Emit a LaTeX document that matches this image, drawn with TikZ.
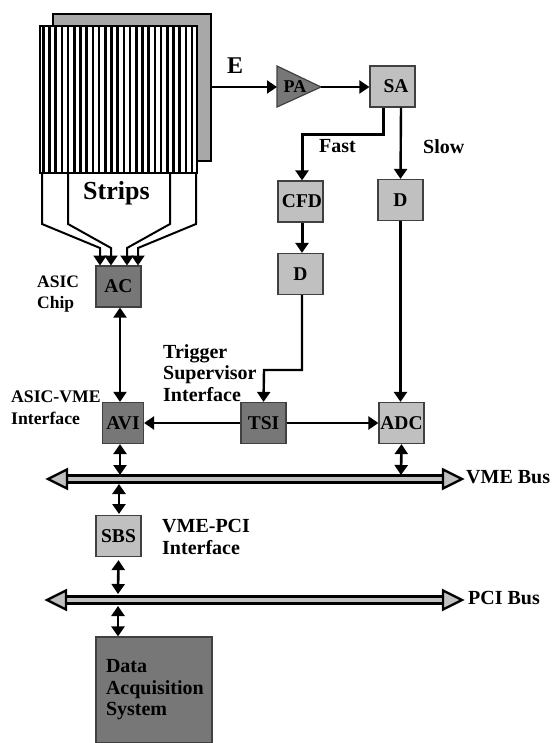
\documentclass[tikz,border=0pt]{standalone}
\usepackage{fontspec}
\setmainfont{Liberation Serif}
\usetikzlibrary{arrows.meta}

\definecolor{boxlight}{HTML}{C0C0C0}
\definecolor{boxdark}{HTML}{777777}
\definecolor{plate}{HTML}{A8A8A8}

\tikzset{
  lightbox/.style={draw=black!75,line width=1.2pt,fill=boxlight,inner sep=0pt,minimum width=45pt,minimum height=41pt,font=\bfseries\fontsize{19.5}{21}\selectfont},
  darkbox/.style={lightbox,fill=boxdark},
  lbl/.style={inner sep=0pt,anchor=base west,align=left,font=\bfseries\fontsize{20}{21.5}\selectfont},
  sig/.style={line width=2pt,-{Triangle[length=10pt,width=13pt]}},
  thicksig/.style={sig,line width=3pt},
  midsig/.style={sig,line width=2.4pt},
  both/.style={line width=2.6pt,{Triangle[length=10pt,width=13pt]}-{Triangle[length=10pt,width=13pt]}},
}

\begin{document}
\begin{tikzpicture}[x=1pt,y=-1pt]
\useasboundingbox (0,0) rectangle (551,743);
% detector
\draw [line width=2.4pt,fill=plate] (53,14) rectangle (211,161);
\fill [white] (40,26) rectangle (197,173);
\foreach \i in {0,...,24}
  \fill [black] (42+\i*6.2,26) rectangle +(2.5,147);
\draw [line width=1.6pt] (40,26) rectangle (197,173);
\coordinate (det) at (211,87);
\coordinate (s1) at (42,173);
\coordinate (s2) at (68,173);
\coordinate (s3) at (170,173);
\coordinate (s4) at (196,173);
% boxes
\node [darkbox] (AC) at (118.5,286.5) {AC};
\node [darkbox,minimum width=41pt] (AVI) at (123,423) {AVI};
\node [darkbox] (TSI) at (263.5,423) {TSI};
\node [lightbox] (ADC) at (401.5,423) {ADC};
\node [lightbox] (SA) at (392.5,86.5) {\hspace*{7pt}SA};
\node [lightbox] (CFD) at (300.5,201.5) {\hspace*{3pt}CFD};
\node [lightbox] (D1) at (300.5,274) {D};
\node [lightbox] (D2) at (400.5,200) {D};
\node [lightbox] (SBS) at (118.5,536) {SBS};
\node [darkbox,minimum width=116pt,minimum height=106pt,text width=96pt,align=left,font=\bfseries\fontsize{20}{21.5}\selectfont] (DAQ) at (154,690) {Data\\Acquisition\\System};
% amplifier
\fill [boxdark,draw=black!75,line width=1.2pt] (277,66) -- (321,87) -- (277,107) -- cycle;
\coordinate (PAin) at (277,87);
\coordinate (PAout) at (321,87);
\node [inner sep=0pt,font=\bfseries\fontsize{18}{18}\selectfont] (PA) at (295,87) {PA};
% strips to chip
\draw [sig] (s1) -- +(0,51) -- (100,248) -- (100,265.5);
\draw [sig] (s2) -- +(0,51) -- (111,248) -- (111,265.5);
\draw [sig] (s3) -- +(0,51) -- (127,248) -- (127,265.5);
\draw [sig] (s4) -- +(0,51) -- (138,248) -- (138,265.5);
% signal path
\draw [sig] (det) -- (PAin);
\draw [sig] (PAout) -- (SA.west |- PAout);
\draw [thicksig] ([xshift=-9.5pt]SA.south) |- (302,135) -- ([xshift=1.5pt]CFD.north);
\draw [midsig] ([xshift=8.5pt]SA.south) -- (D2.north);
\draw [thicksig] ([xshift=1.5pt]CFD.south) -- ([xshift=1.5pt]D1.north);
\draw [midsig] ([xshift=1.5pt]D1.south) |- (264,370) -- (TSI.north);
\draw [midsig] (D2.south) -- (D2.south |- ADC.north);
\draw [midsig] (TSI.west) -- (AVI.east);
\draw [midsig] (TSI.east) -- (ADC.west);
% buses
\coordinate (VMEl) at (48,479);
\coordinate (VMEr) at (462,479);
\coordinate (PCIl) at (47,600);
\coordinate (PCIr) at (462,600);
\foreach \a/\b in {VMEl/VMEr,PCIl/PCIr} {
  \draw [line width=2.4pt] ([xshift=19pt,yshift=-3.5pt]\a) -- ([xshift=-19pt,yshift=-3.5pt]\b);
  \draw [line width=2.4pt] ([xshift=19pt,yshift=3.5pt]\a) -- ([xshift=-19pt,yshift=3.5pt]\b);
  \fill [boxlight] ([xshift=19pt,yshift=-2.3pt]\a) rectangle ([xshift=-19pt,yshift=2.3pt]\b);
  \draw [line width=2.4pt,fill=boxlight] (\a) -- ([xshift=19pt,yshift=-9.5pt]\a) -- ([xshift=19pt,yshift=9.5pt]\a) -- cycle;
  \draw [line width=2.4pt,fill=boxlight] (\b) -- ([xshift=-19pt,yshift=-9.5pt]\b) -- ([xshift=-19pt,yshift=9.5pt]\b) -- cycle;
}
\coordinate (bAVI) at (120,475);
\coordinate (bADC) at (401,475);
\coordinate (bSBSa) at (119,484);
\coordinate (bSBSb) at (118,594);
\coordinate (bDAQ) at (118,606);
% bus connections
\draw [both,line width=2pt] ([xshift=1.5pt]AC.south) -- ([xshift=-3pt]AVI.north);
\draw [both] ([xshift=-3pt]AVI.south) -- (bAVI);
\draw [both] (ADC.south) -- (bADC);
\draw [both] (bSBSa) -- (119,514);
\draw [both] (SBS.south) ++(0,3) -- (bSBSb);
\draw [both] (bDAQ) -- (DAQ.north -| bDAQ);
% labels
\node [inner sep=0pt,anchor=base west,font=\bfseries\fontsize{24}{24}\selectfont] (E) at (227,74) {E};
\node [inner sep=0pt,anchor=base west,font=\bfseries\fontsize{26}{26}\selectfont] (Strips) at (83,200) {Strips};
\node [lbl,font=\bfseries\fontsize{17.5}{21}\selectfont] (chip) at (37,308) {ASIC\\Chip};
\node [lbl] (fast) at (319,153) {Fast};
\node [lbl] (slow) at (423,154) {Slow};
\node [lbl] (trig) at (163,401) {Trigger\\Supervisor\\Interface};
\node [lbl,font=\bfseries\fontsize{17.7}{22}\selectfont] (avilbl) at (11,424) {ASIC-VME\\Interface};
\node [lbl] (sbslbl) at (162,554) {VME-PCI\\Interface};
\node [lbl] (vme) at (466,483) {VME Bus};
\node [lbl] (pci) at (468,604) {PCI Bus};
\end{tikzpicture}
\end{document}
